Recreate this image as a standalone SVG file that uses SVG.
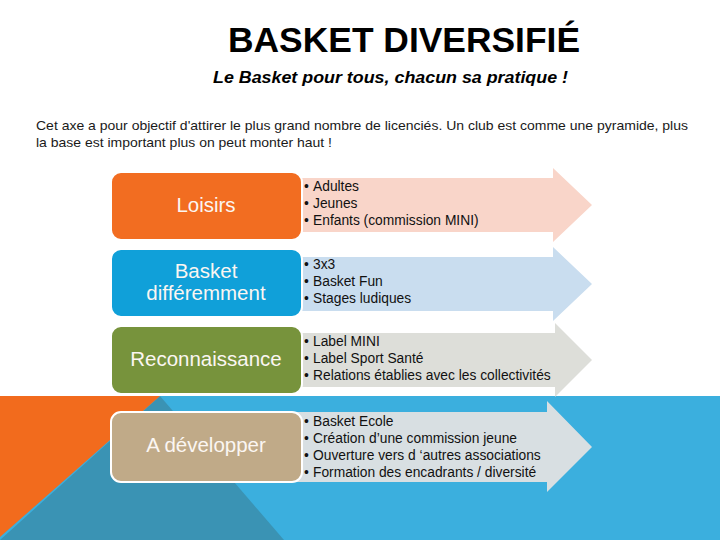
<svg xmlns="http://www.w3.org/2000/svg" width="720" height="540" viewBox="0 0 720 540">
<style>
.title{font-family:"Liberation Sans",Arial,sans-serif;font-size:35px;font-weight:bold;fill:#000;}
.sub{font-family:"Liberation Sans",Arial,sans-serif;font-size:16px;font-weight:bold;font-style:italic;fill:#000;}
.para{font-family:"Liberation Sans",Arial,sans-serif;font-size:13px;fill:#1a1a1a;}
.box{stroke:#ffffff;stroke-width:2;}
.lbl{font-family:"Liberation Sans",Arial,sans-serif;font-size:20.5px;fill:#fbf6f2;text-anchor:middle;}
.item{font-family:"Liberation Sans",Arial,sans-serif;font-size:13.8px;fill:#111;}
</style>
<rect x="0" y="0" width="720" height="540" fill="#ffffff"/>
<g id="background">
<rect x="0" y="396" width="720" height="144" fill="#3BAFDE"/>
<polygon points="160,396 0,540 284,540" fill="#3A93B4"/>
<polygon points="0,396 160,396 0,537" fill="#F26B1D"/>
</g>
<text class="title" x="228" y="52" textLength="352" lengthAdjust="spacingAndGlyphs">BASKET DIVERSIFIÉ</text>
<text class="sub" x="213" y="83" textLength="355" lengthAdjust="spacingAndGlyphs">Le Basket pour tous, chacun sa pratique !</text>
<text class="para" x="36" y="130" textLength="652" lengthAdjust="spacingAndGlyphs">Cet axe a pour objectif d'attirer le plus grand nombre de licenciés. Un club est comme une pyramide, plus</text>
<text class="para" x="36" y="147" textLength="296" lengthAdjust="spacingAndGlyphs">la base est important plus on peut monter haut !</text>
<g id="connectors"/>
<g id="node-loisirs">
<polygon points="296,178 553,178 553,168 592,205 553,242 553,232 296,232" fill="#F9D5C9"/>
<rect class="box" x="111" y="172" width="191" height="68" rx="10" fill="#F26D21"/>
<text class="lbl" x="206" y="212">Loisirs</text>
<g class="item">
<text x="304" y="191">•</text><text x="313" y="191">Adultes</text>
<text x="304" y="208">•</text><text x="313" y="208">Jeunes</text>
<text x="304" y="225">•</text><text x="313" y="225">Enfants (commission MINI)</text>
</g>
</g>
<g id="node-basket">
<polygon points="296,257 553,257 553,247 592,284 553,321 553,311 296,311" fill="#C9DDEF"/>
<rect class="box" x="111" y="249" width="191" height="68" rx="10" fill="#10A0D9"/>
<text class="lbl" x="206" y="278">Basket</text>
<text class="lbl" x="206" y="300">différemment</text>
<g class="item">
<text x="304" y="269">•</text><text x="313" y="269">3x3</text>
<text x="304" y="286">•</text><text x="313" y="286">Basket Fun</text>
<text x="304" y="303">•</text><text x="313" y="303">Stages ludiques</text>
</g>
</g>
<g id="node-reconnaissance">
<polygon points="296,333 555,333 555,323 592,360 555,397 555,387 296,387" fill="#DDDED9"/>
<rect class="box" x="111" y="326" width="191" height="68" rx="10" fill="#77933C"/>
<text class="lbl" x="206" y="366">Reconnaissance</text>
<g class="item">
<text x="304" y="346">•</text><text x="313" y="346">Label MINI</text>
<text x="304" y="363">•</text><text x="313" y="363">Label Sport Santé</text>
<text x="304" y="380">•</text><text x="313" y="380">Relations établies avec les collectivités</text>
</g>
</g>
<g id="node-developper">
<polygon points="296,412 547,412 547,401 592,447 547,492 547,482 296,482" fill="#D8DFE2"/>
<rect class="box" x="111" y="412" width="191" height="70" rx="10" fill="#C0AA88"/>
<text class="lbl" x="206" y="452">A développer</text>
<g class="item">
<text x="304" y="426">•</text><text x="313" y="426">Basket Ecole</text>
<text x="304" y="443">•</text><text x="313" y="443">Création d’une commission jeune</text>
<text x="304" y="460">•</text><text x="313" y="460">Ouverture vers d ‘autres associations</text>
<text x="304" y="477">•</text><text x="313" y="477">Formation des encadrants / diversité</text>
</g>
</g>
</svg>
